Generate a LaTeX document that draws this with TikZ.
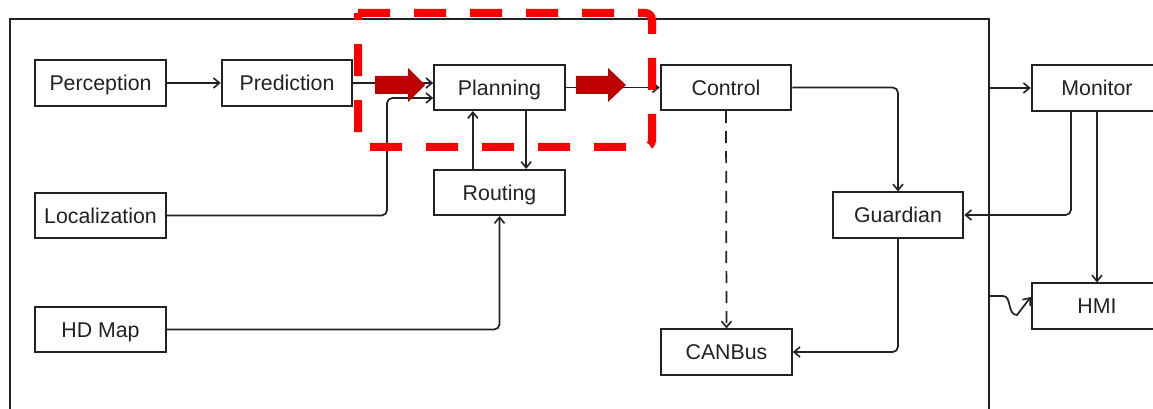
\documentclass[tikz,border=0pt]{standalone}
\usepackage{fontspec}
\setmainfont{Liberation Sans}
\usetikzlibrary{arrows.meta}

\definecolor{ink}{HTML}{222222}
\definecolor{hilite}{HTML}{FF0000}
\definecolor{flow}{HTML}{BD0000}

\begin{document}
\begin{tikzpicture}[x=0.75pt,y=-0.75pt,
  module/.style={draw=ink, line width=1.4pt, fill=white, text=ink,
    font=\fontsize{16pt}{19pt}\selectfont, inner sep=0pt,
    text height=14pt, text depth=2pt,
    minimum width=98pt, minimum height=34pt},
  conn/.style={draw=ink, line width=1.3pt, rounded corners=4pt,
    -{Straight Barb[length=4.5pt,width=7.5pt,line width=1.2pt]}},
  flowarrow/.style={fill=flow, draw=none}]

\useasboundingbox (0,0) rectangle (1153,409);

% system frame (open at the bottom)
\draw[ink, line width=1.5pt] (10,409) -- (10,19) -- (989,19) -- (989,409);
\coordinate (frameM) at (989,88);
\coordinate (frameH) at (989,296);

% modules
\node[module] (perc)  at (100.5,83)  {Perception};
\node[module] (pred)  at (287,83)    {Prediction};
\node[module] (plan)  at (499.5,87.5){Planning};
\node[module] (ctrl)  at (726,87.5)  {Control};
\node[module] (rout)  at (499.5,192.5){Routing};
\node[module] (loc)   at (100.5,215.5){Localization};
\node[module] (hdmap) at (100.5,329.5){HD Map};
\node[module] (guard) at (898,215)   {Guardian};
\node[module] (mon)   at (1097,88)  {Monitor};
\node[module] (hmi)   at (1097,306) {HMI};
\node[module] (can)   at (726.5,352) {CANBus};

% data flow
\draw[conn] (perc.east) -- (pred.west);
\draw[conn] (pred.east) -- (plan.west |- pred.east);
\coordinate (lbend) at (387,98);
\draw[conn] (loc.east) -| (lbend) -- (lbend -| plan.west);
\draw[conn] ([xshift=20pt]plan.south) -- ([xshift=20pt]rout.north);
\draw[conn] ([xshift=-20pt]rout.north) -- ([xshift=-20pt]plan.south);
\draw[conn] (hdmap.east) -| (rout.south);
\draw[conn] (plan.east) -- (ctrl.west);
\draw[conn] (ctrl.east) -| (guard.north);
\draw[conn, dash pattern=on 9pt off 6pt] (ctrl.south) -- (can.north);
\draw[conn] (guard.south) |- (can.east);
\draw[conn] ([xshift=-19.5pt]mon.south) |- (guard.east);
\draw[conn] (mon.south) -- (hmi.north);
\draw[conn] (frameM) -- (frameM -| mon.west);
\draw[conn, rounded corners=0pt] (frameH) -- (1003,296)
  .. controls (1012,296) and (1007,315) .. (1017,315)
  -- ([yshift=6.75pt]hmi.west);

% highlighted planning stage
\draw[hilite, line width=6pt, rounded corners=5pt,
  dash pattern=on 24pt off 18pt]
  (358,13) -- (652,13) -- (652,147) -- (358,147) -- (358,13);
\fill[flowarrow] (375,76) -- (408,76) -- (408,68) -- (425,85)
  -- (408,102) -- (408,94) -- (375,94) -- cycle;
\fill[flowarrow] (576,76) -- (608,76) -- (608,68) -- (626,85)
  -- (608,102) -- (608,94) -- (576,94) -- cycle;

\end{tikzpicture}
\end{document}
